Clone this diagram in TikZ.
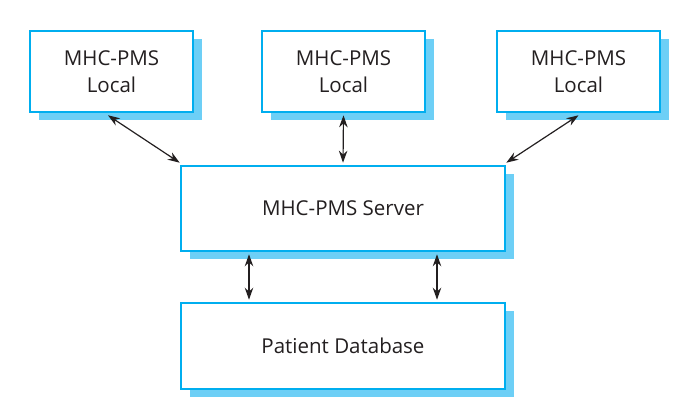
\documentclass[tikz,border=0pt]{standalone}
\usepackage{fontspec}
\setmainfont{Open Sans}[Ligatures=NoCommon]
\usetikzlibrary{arrows.meta,shadows}
\definecolor{boxline}{HTML}{00AEEF}
\definecolor{boxshadow}{HTML}{6DCFF6}
\definecolor{txt}{HTML}{231F20}
\tikzset{
  sysbox/.style={draw=boxline, line width=2.6pt, fill=white, text=txt,
    align=center, font=\fontsize{20.5}{27}\selectfont, inner sep=0pt,
    drop shadow={shadow xshift=9pt, shadow yshift=-8pt, fill=boxshadow, opacity=1}},
  arr/.style={draw=txt, line width=1.2pt, {Stealth[length=12pt,width=8.5pt]}-{Stealth[length=12pt,width=8.5pt]}}
}
\begin{document}
\begin{tikzpicture}[x=1pt,y=-1pt]
\useasboundingbox (0,0) rectangle (675,410);
\node[sysbox, minimum width=163pt, minimum height=81pt] (b1) at (111.5,71.5) {MHC-PMS\\Local};
\node[sysbox, minimum width=163pt, minimum height=81pt] (b2) at (343.5,71.5) {MHC-PMS\\Local};
\node[sysbox, minimum width=163pt, minimum height=81pt] (b3) at (578.5,71.5) {MHC-PMS\\Local};
\node[sysbox, minimum width=324pt, minimum height=85pt] (srv) at (343,208.5) {MHC-PMS Server};
\node[sysbox, minimum width=324pt, minimum height=86pt] (db) at (343,346) {Patient Database};
\draw[arr] ([xshift=-3.5pt,yshift=-2pt]b1.south) -- ([yshift=2pt]srv.north west);
\draw[arr] ([yshift=-2pt]b2.south) -- ([yshift=2pt]srv.north);
\draw[arr] ([yshift=-2pt]b3.south) -- ([yshift=2pt]srv.north east);
\draw[arr] ([xshift=-94pt,yshift=-2pt]srv.south) -- ([xshift=-94pt,yshift=2pt]db.north);
\draw[arr] ([xshift=94pt,yshift=-2pt]srv.south) -- ([xshift=94pt,yshift=2pt]db.north);
\end{tikzpicture}
\end{document}
